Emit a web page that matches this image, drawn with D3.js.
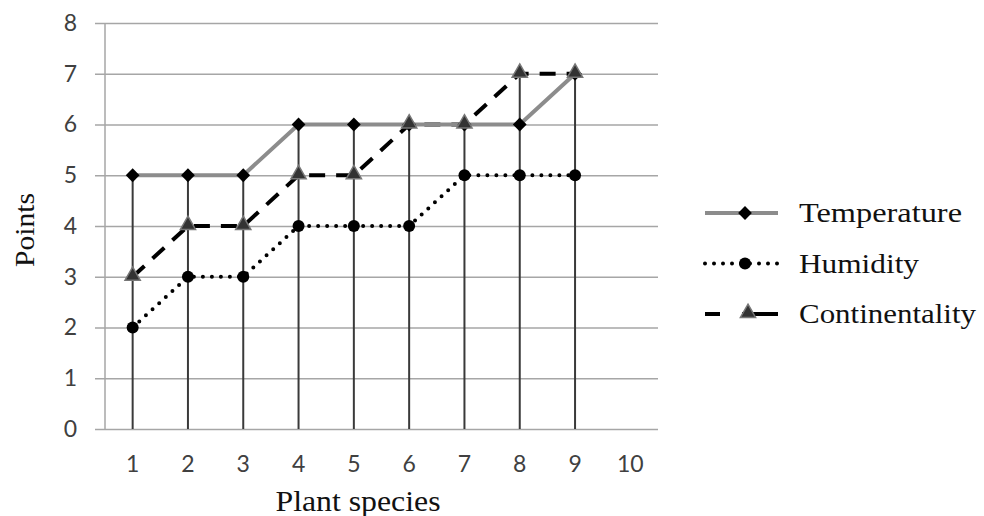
<!DOCTYPE html>
<meta charset="utf-8">
<script src="https://d3js.org/d3.v7.min.js"></script>
<style>
  body { margin: 0; background: #fff; }
  .tick text { font-family: Lato, "Open Sans", sans-serif; fill: #404040; }
  .serif { font-family: "Liberation Serif", "DejaVu Serif", serif; fill: #111; }
</style>
<body>
  <svg id="vis"></svg>
</body>
<script>
  // data
  var species = ["1", "2", "3", "4", "5", "6", "7", "8", "9", "10"];
  var temperature = [5, 5, 5, 6, 6, 6, 6, 6, 7];
  var humidity = [2, 3, 3, 4, 4, 4, 5, 5, 5];
  var continentality = [3, 4, 4, 5, 5, 6, 6, 7, 7];
  var yTicks = [0, 1, 2, 3, 4, 5, 6, 7, 8];

  var series = [
    { name: "Temperature", values: temperature, color: "#8c8c8c", dash: null, marker: "diamond", len: 163 },
    { name: "Humidity", values: humidity, color: "#000", dash: "0,9", marker: "circle", len: 120 },
    { name: "Continentality", values: continentality, color: "#000", dash: "16,11", marker: "triangle", len: 177 }
  ];

  var W = 984, H = 516;
  var plotL = 105, plotR = 658, plotT = 23, plotB = 429;

  var svg = d3.select("#vis").attr("width", W).attr("height", H);

  var x = d3.scaleBand().domain(species).range([plotL, plotR]);
  var y = d3.scaleLinear().domain([0, 8]).range([plotB, plotT]);
  var cx = function(i) { return x(species[i]) + x.bandwidth() / 2; };

  // gridlines
  svg.append("g")
    .attr("transform", "translate(" + plotL + ",0)")
    .call(d3.axisLeft(y).tickValues(yTicks).tickSize(-(plotR - plotL)).tickPadding(28))
    .call(function(g) {
      g.select(".domain").remove();
      g.selectAll(".tick line").attr("stroke", "#a6a6a6").attr("stroke-width", 1.5).attr("x1", -10);
      g.selectAll(".tick text").attr("font-size", 23);
    });

  // vertical axis line
  svg.append("line")
    .attr("x1", plotL).attr("x2", plotL).attr("y1", plotT).attr("y2", plotB)
    .attr("stroke", "#a6a6a6").attr("stroke-width", 1.5);

  // x axis labels
  svg.append("g")
    .attr("transform", "translate(0," + plotB + ")")
    .call(d3.axisBottom(x).tickSize(0).tickPadding(27))
    .call(function(g) {
      g.select(".domain").remove();
      g.selectAll(".tick text").attr("font-size", 23);
    });

  // drop lines from the highest point down to zero
  var maxVals = temperature.map(function(d, i) {
    return d3.max(series, function(s) { return s.values[i]; });
  });
  svg.append("g").selectAll("line")
    .data(maxVals)
    .enter().append("line")
    .attr("x1", function(d, i) { return cx(i); })
    .attr("x2", function(d, i) { return cx(i); })
    .attr("y1", function(d) { return y(d); })
    .attr("y2", y(0))
    .attr("stroke", "#3a3a3a")
    .attr("stroke-width", 2);

  var line = d3.line()
    .x(function(d, i) { return cx(i); })
    .y(function(d) { return y(d); });

  // draw in reverse so temperature sits on top
  series.slice().reverse().forEach(function(s) {
    svg.append("path")
      .datum(s.values)
      .attr("d", line)
      .attr("fill", "none")
      .attr("stroke", s.color)
      .attr("stroke-width", 4)
      .attr("stroke-linecap", s.marker === "circle" ? "round" : "butt")
      .attr("stroke-dasharray", s.dash);
  });

  function drawMarker(g, type, px, py) {
    if (type === "diamond") {
      g.append("path")
        .attr("d", d3.symbol().type(d3.symbolSquare).size(95)())
        .attr("transform", "translate(" + px + "," + py + ") rotate(45)")
        .attr("fill", "#000");
    } else if (type === "circle") {
      g.append("circle").attr("cx", px).attr("cy", py).attr("r", 6).attr("fill", "#000");
    } else {
      g.append("path")
        .attr("d", d3.symbol().type(d3.symbolTriangle).size(100)())
        .attr("transform", "translate(" + px + "," + (py - 1) + ")")
        .attr("fill", "#333").attr("stroke", "#777").attr("stroke-width", 1.5);
    }
  }

  series.forEach(function(s) {
    var g = svg.append("g");
    s.values.forEach(function(v, i) { drawMarker(g, s.marker, cx(i), y(v)); });
  });

  // axis titles
  svg.append("text")
    .attr("class", "serif")
    .attr("text-anchor", "middle")
    .attr("x", 358).attr("y", 511)
    .attr("font-size", 29)
    .attr("textLength", 165).attr("lengthAdjust", "spacingAndGlyphs")
    .text("Plant species");

  svg.append("text")
    .attr("class", "serif")
    .attr("text-anchor", "middle")
    .attr("transform", "translate(34,230) rotate(-90)")
    .attr("font-size", 28)
    .attr("textLength", 74).attr("lengthAdjust", "spacingAndGlyphs")
    .text("Points");

  // legend
  var legend = svg.append("g");
  series.forEach(function(s, i) {
    var ly = 213 + i * 50.5;
    legend.append("line")
      .attr("x1", 705).attr("x2", 778).attr("y1", ly).attr("y2", ly)
      .attr("stroke", s.color)
      .attr("stroke-width", 4)
      .attr("stroke-linecap", s.marker === "circle" ? "round" : "butt")
      .attr("stroke-dasharray", s.marker === "triangle" ? "15,22,40" : s.dash);
    drawMarker(legend, s.marker, s.marker === "triangle" ? 748 : 745, ly);
    legend.append("text")
      .attr("class", "serif")
      .attr("x", 799).attr("y", ly + 9)
      .attr("font-size", 28)
      .attr("textLength", s.len).attr("lengthAdjust", "spacingAndGlyphs")
      .text(s.name);
  });
</script>
